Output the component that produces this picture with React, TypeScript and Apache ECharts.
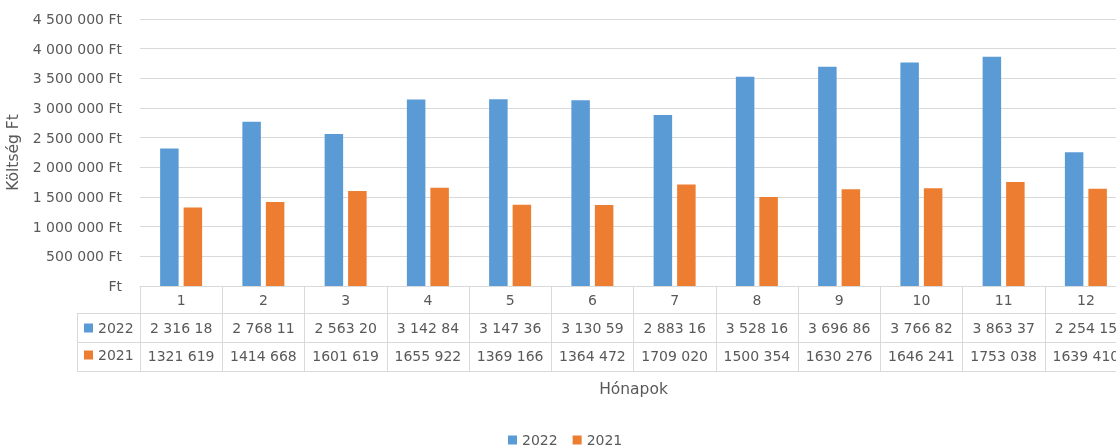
import React, { useEffect, useRef } from "react";
import * as echarts from "echarts";

const months = ["1", "2", "3", "4", "5", "6", "7", "8", "9", "10", "11", "12"];
const seriesNames = ["2022", "2021"];
const values2022 = [2316180, 2768110, 2563200, 3142840, 3147360, 3130590, 2883160, 3528160, 3696860, 3766820, 3863370, 2254150];
const values2021 = [1321619, 1414668, 1601619, 1655922, 1369166, 1364472, 1709020, 1500354, 1630276, 1646241, 1753038, 1639410];
const yMin = 0;
const yMax = 4500000;
const yStep = 500000;
const xAxisTitle = "Hónapok";
const yAxisTitle = "Költség Ft";

const colors = ["#5B9BD5", "#ED7D31"];
const textColor = "#595959";
const lineColor = "#D9D9D9";
const FONT = "'DejaVu Sans', 'Open Sans', sans-serif";
const FS = 14;
const TITLE_FS = 15.5;

const groupAll = (v: number) => String(v).replace(/\B(?=(\d{3})+(?!\d))/g, " ");
const fmt2022 = (v: number) => groupAll(v).slice(0, 8);
const fmt2021 = (v: number) => {
  const s = String(v);
  return s.slice(0, -3) + " " + s.slice(-3);
};
const fmtAxis = (v: number) => (v === 0 ? "Ft" : groupAll(v) + " Ft");

const W = 1116;
const H = 447;
const GRID_LEFT = 140;
const GRID_TOP = 19;
const GRID_BOTTOM = 161;
const AXIS_Y = H - GRID_BOTTOM;
const ROW1 = 27;
const ROW = 29;
const KEY_LEFT = 77;

export default function App() {
  const ref = useRef<HTMLDivElement>(null);
  useEffect(() => {
    if (!ref.current) return;
    const chart = echarts.init(ref.current, null, { renderer: "svg" });
    const tableBottom = AXIS_Y + ROW1 + 2 * ROW;
    const lineStyle = { stroke: lineColor, lineWidth: 1 };
    chart.setOption({
      animation: false,
      textStyle: { fontFamily: FONT },
      color: colors,
      grid: {
        left: GRID_LEFT,
        top: GRID_TOP,
        bottom: GRID_BOTTOM,
        right: -11,
        containLabel: false,
        outerBoundsMode: "none",
      },
      legend: [
        {
          data: seriesNames,
          left: 508,
          top: 433,
          padding: 0,
          icon: "rect",
          itemWidth: 9,
          itemHeight: 9,
          itemGap: 15,
          selectedMode: false,
          textStyle: { color: textColor, fontSize: FS, fontFamily: FONT },
        },
        {
          data: seriesNames,
          orient: "vertical",
          left: 84,
          top: 321,
          padding: 0,
          icon: "rect",
          itemWidth: 9,
          itemHeight: 9,
          itemGap: 13,
          selectedMode: false,
          textStyle: { color: textColor, fontSize: FS, fontFamily: FONT },
        },
      ],
      xAxis: {
        type: "category",
        data: months,
        name: xAxisTitle,
        nameLocation: "middle",
        nameGap: 95,
        nameTextStyle: { color: textColor, fontSize: TITLE_FS, fontFamily: FONT },
        axisLine: { show: true, lineStyle: { color: lineColor, width: 1 } },
        axisTick: { show: true, length: ROW1 + 2 * ROW, lineStyle: { color: lineColor, width: 1 } },
        axisLabel: {
          interval: 0,
          margin: 0,
          formatter: (value: string, index: number) =>
            `{c|${value}}\n{v|${fmt2022(values2022[index])}}\n{v|${fmt2021(values2021[index])}}`,
          rich: {
            c: { color: textColor, fontSize: FS, lineHeight: 28, fontFamily: FONT },
            v: { color: textColor, fontSize: FS, lineHeight: 28, fontFamily: FONT },
          },
        },
      },
      yAxis: {
        type: "value",
        min: yMin,
        max: yMax,
        interval: yStep,
        name: yAxisTitle,
        nameLocation: "middle",
        nameGap: 119,
        nameTextStyle: { color: textColor, fontSize: TITLE_FS, fontFamily: FONT },
        axisLine: { show: false },
        axisTick: { show: false },
        axisLabel: { color: textColor, fontSize: FS, margin: 18, formatter: fmtAxis, fontFamily: FONT },
        splitLine: { show: true, lineStyle: { color: lineColor, width: 1 } },
      },
      series: [
        { name: seriesNames[0], type: "bar", data: values2022, barWidth: 18.5, barGap: "27%" },
        { name: seriesNames[1], type: "bar", data: values2021, barWidth: 18.5, barGap: "27%" },
      ],
      graphic: [
        { type: "line", shape: { x1: KEY_LEFT, y1: AXIS_Y + ROW1 + 0.5, x2: W, y2: AXIS_Y + ROW1 + 0.5 }, style: lineStyle, silent: true },
        { type: "line", shape: { x1: KEY_LEFT, y1: AXIS_Y + ROW1 + ROW + 0.5, x2: W, y2: AXIS_Y + ROW1 + ROW + 0.5 }, style: lineStyle, silent: true },
        { type: "line", shape: { x1: KEY_LEFT, y1: tableBottom + 0.5, x2: W, y2: tableBottom + 0.5 }, style: lineStyle, silent: true },
        { type: "line", shape: { x1: KEY_LEFT + 0.5, y1: AXIS_Y + ROW1, x2: KEY_LEFT + 0.5, y2: tableBottom + 0.5 }, style: lineStyle, silent: true },
      ],
    });
    return () => chart.dispose();
  }, []);
  return <div ref={ref} style={{ position: "fixed", left: 0, top: 0, width: W, height: H }} />;
}
